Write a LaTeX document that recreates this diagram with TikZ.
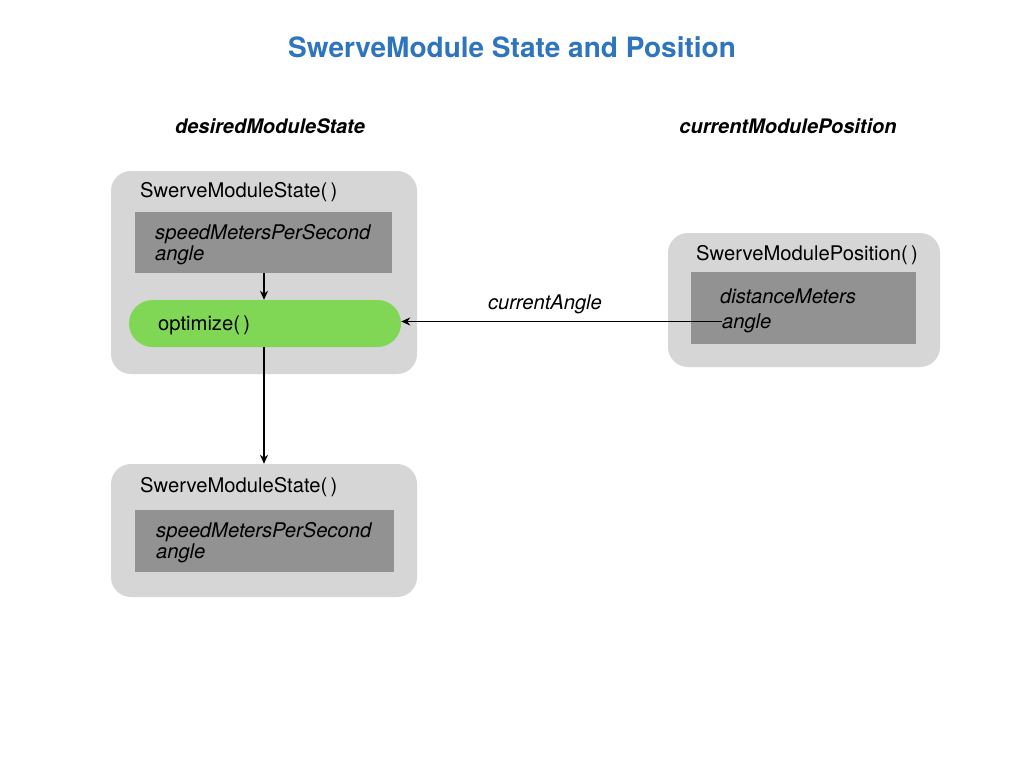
\documentclass[tikz,border=0pt]{standalone}
\usepackage{fontspec}
\setmainfont{TeX Gyre Heros}
\usetikzlibrary{arrows.meta}
\definecolor{outerg}{HTML}{D6D6D6}
\definecolor{innerg}{HTML}{929292}
\definecolor{optgreen}{HTML}{80D655}
\definecolor{titleblue}{HTML}{2E75BD}
\begin{document}
\begin{tikzpicture}[x=1pt,y=-1pt,
  outerbox/.style={fill=outerg,draw=none,rounded corners=20pt,inner sep=0pt},
  innerbox/.style={fill=innerg,draw=none,inner sep=0pt},
  txt/.style={anchor=base west,inner sep=0pt,font=\fontsize{20.2}{24}\selectfont},
  itxt/.style={txt,font=\fontsize{20.2}{24}\selectfont\itshape},
  arr/.style={-{Stealth[length=9pt,width=8pt]},line width=1.7pt,black}]
\useasboundingbox (0,0) rectangle (1024,768);
\fill[white] (0,0) rectangle (1024,768);
% title and headers
\node[anchor=base,inner sep=0pt,text=titleblue,font=\fontsize{28}{32}\selectfont\bfseries] (title) at (512,57) {SwerveModule State and Position};
\node[anchor=base,inner sep=0pt,font=\fontsize{20}{24}\selectfont\bfseries\itshape] (hdesired) at (270,133) {desiredModuleState};
\node[anchor=base,inner sep=0pt,font=\fontsize{20}{24}\selectfont\bfseries\itshape] (hcurrent) at (788,133) {currentModulePosition};
% box 1
\node[outerbox,minimum width=306pt,minimum height=203pt] (box1) at (264,272.5) {};
\node[txt] (lab1) at (140,197) {SwerveModuleState(\,)};
\node[innerbox,minimum width=257pt,minimum height=61pt] (in1) at (263.5,242.5) {};
\node[itxt] (speed1) at (155,239.5) {speedMetersPerSecond};
\node[itxt] (angle1) at (155,260.5) {angle};
\node[fill=optgreen,draw=none,rounded corners=23.5pt,minimum width=272pt,minimum height=47pt,inner sep=0pt] (opt) at (265,323.5) {};
\node[txt] (optlab) at (158,330) {optimize(\,)};
% box 2
\node[outerbox,minimum width=306pt,minimum height=133pt] (box2) at (264,530.5) {};
\node[txt] (lab2) at (140,492) {SwerveModuleState(\,)};
\node[innerbox,minimum width=259pt,minimum height=62pt] (in2) at (264.5,541) {};
\node[itxt] (speed2) at (156,537.5) {speedMetersPerSecond};
\node[itxt] (angle2) at (156,558.5) {angle};
% box 3
\node[outerbox,minimum width=272pt,minimum height=134pt] (box3) at (804,300) {};
\node[txt] (lab3) at (696,260) {SwerveModulePosition(\,)};
\node[innerbox,minimum width=225pt,minimum height=72pt] (in3) at (803.5,308) {};
\node[itxt] (dist3) at (720,303) {distanceMeters};
\node[itxt] (angle3) at (722,328) {angle};
% connectors
\coordinate (a1s) at (264,273);
\draw[arr] (in1.south -| a1s) -- (opt.north -| a1s);
\draw[arr] (opt.south -| a1s) -- (box2.north -| a1s);
\coordinate (cstart) at (722,321.5);
\draw[arr] (cstart) -- (cstart -| opt.east);
\node[itxt,anchor=base] (curang) at (545,309) {currentAngle};
\end{tikzpicture}
\end{document}
